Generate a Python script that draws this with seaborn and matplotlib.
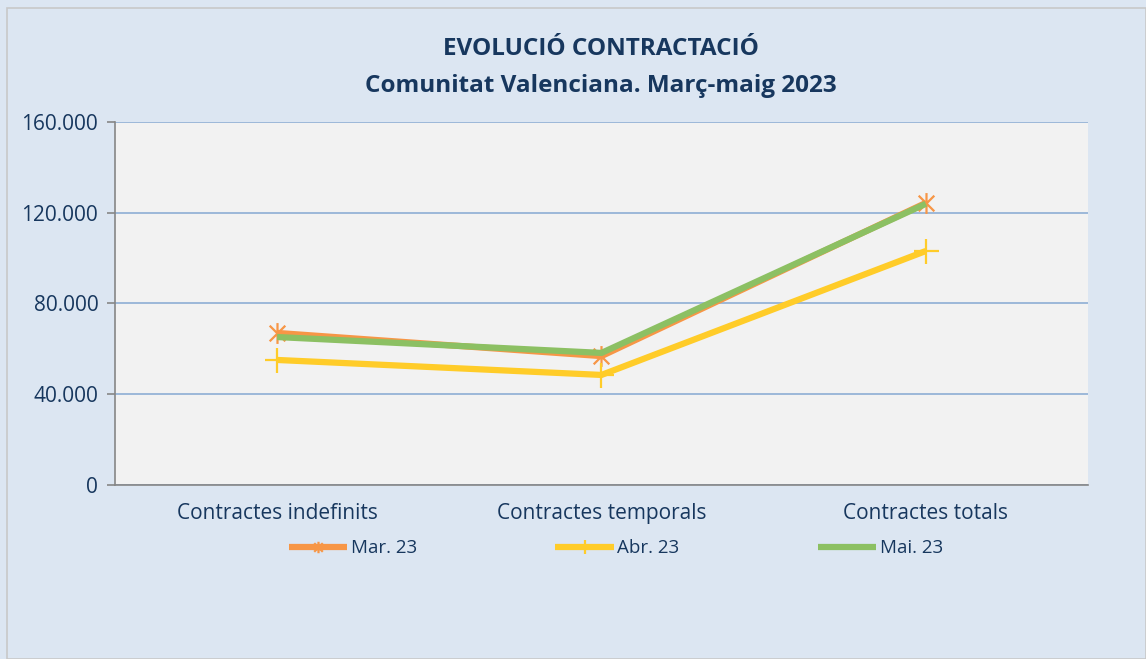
import pandas as pd
import seaborn as sns
import matplotlib.pyplot as plt
from matplotlib.patches import Rectangle
from matplotlib.path import Path
from matplotlib.ticker import FuncFormatter, FixedLocator

categories = ['Contractes indefinits', 'Contractes temporals', 'Contractes totals']
mar_23 = [67000, 56800, 124300]
abr_23 = [55100, 48500, 103100]
mai_23 = [65200, 58200, 123900]
series_names = ['Mar. 23', 'Abr. 23', 'Mai. 23']

rows = []
for name, vals in zip(series_names, [mar_23, abr_23, mai_23]):
    for i, v in enumerate(vals):
        rows.append({'pos': i, 'Sèrie': name, 'Contractes': v})
df = pd.DataFrame(rows)

sns.set_style('white')
plt.rcParams['font.family'] = ['Open Sans', 'DejaVu Sans']
text_col = '#17375E'

# Excel-like star marker: X plus a vertical bar
star = Path([(0, -1), (0, 1), (-0.75, -0.75), (0.75, 0.75), (-0.75, 0.75), (0.75, -0.75)],
            [Path.MOVETO, Path.LINETO, Path.MOVETO, Path.LINETO, Path.MOVETO, Path.LINETO])

fig = plt.figure(figsize=(11.46, 6.59), dpi=100)
fig.patch.set_facecolor('#DCE6F2')
fig.add_artist(Rectangle((0.006, 0.0), 0.994, 0.988, transform=fig.transFigure,
                         fill=False, edgecolor='#C8C8C8', linewidth=1.2))
ax = fig.add_axes([0.1003, 0.264, 0.8491, 0.5511])
ax.set_facecolor('#F2F2F2')

styles = {
    'Mar. 23': dict(color='#F79646', marker=star, markersize=15, mew=1.6),
    'Abr. 23': dict(color='#FFCC29', marker='+', markersize=18, mew=1.6),
    'Mai. 23': dict(color='#8CC063', marker=None, markersize=0, mew=0),
}
for name in series_names:
    st = styles[name]
    sub = df[df['Sèrie'] == name]
    sns.lineplot(data=sub, x='pos', y='Contractes', ax=ax, color=st['color'],
                 linewidth=4.5, marker=st['marker'], markersize=st['markersize'],
                 markeredgewidth=st['mew'], markeredgecolor=st['color'],
                 label=name, solid_joinstyle='miter', solid_capstyle='butt')

ax.set_xlim(-0.5, 2.5)
ax.set_ylim(0, 160000)
ax.set_yticks([0, 40000, 80000, 120000, 160000])
ax.yaxis.set_major_formatter(FuncFormatter(
    lambda v, p: '0' if v == 0 else f'{int(v):,}'.replace(',', '.')))
ax.yaxis.grid(True, color='#95B3D7', linewidth=1.3)
ax.set_axisbelow(True)

ax.set_xticks([0, 1, 2])
ax.set_xticklabels(categories)
ax.xaxis.set_minor_locator(FixedLocator([-0.5, 0.5, 1.5, 2.5]))
ax.tick_params(axis='x', which='major', length=0, pad=13, labelsize=15,
               labelcolor=text_col)
ax.tick_params(axis='x', which='minor', length=6, width=1.2, color='#868686')
ax.tick_params(axis='y', length=6, width=1.2, color='#868686', labelsize=15,
               labelcolor=text_col, left=True, pad=6)
ax.set_xlabel('')
ax.set_ylabel('')
for s in ['top', 'right']:
    ax.spines[s].set_visible(False)
for s in ['left', 'bottom']:
    ax.spines[s].set_color('#868686')
    ax.spines[s].set_linewidth(1.2)

fig.text(0.5245, 0.925, 'EVOLUCIÓ CONTRACTACIÓ', ha='center', va='center',
         fontsize=17.5, fontweight='bold', color=text_col)
fig.text(0.5245, 0.869, 'Comunitat Valenciana. Març-maig 2023', ha='center',
         va='center', fontsize=17.5, fontweight='bold', color=text_col)

ax.legend(loc='center', bbox_to_anchor=(0.5375, 0.168),
          bbox_transform=fig.transFigure, ncol=3, frameon=False,
          fontsize=13.5, handlelength=3.1, columnspacing=7.4,
          handletextpad=0.2, labelcolor=text_col, markerscale=0.55)

fig.savefig('out.png', dpi=100, facecolor=fig.get_facecolor())
